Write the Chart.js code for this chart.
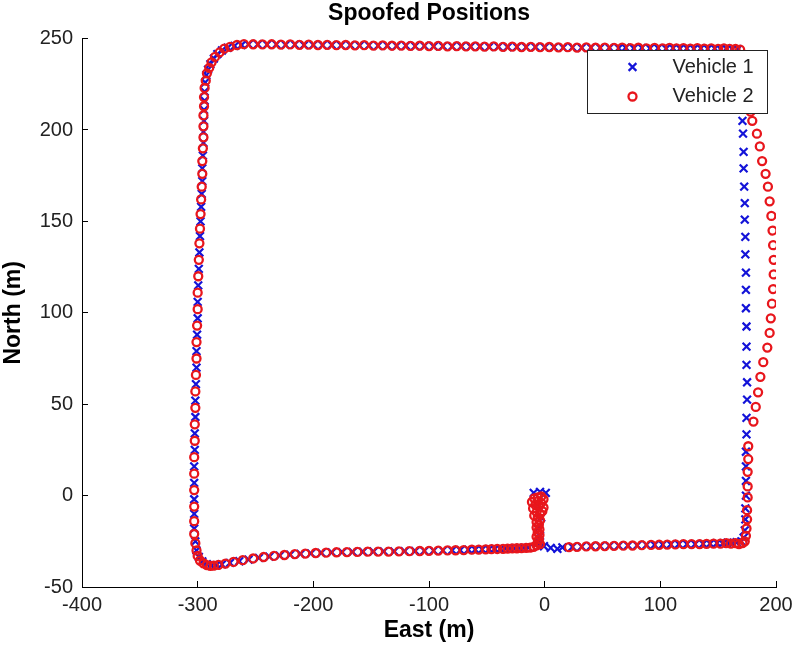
<!DOCTYPE html>
<html>
<head>
<meta charset="utf-8">
<script src="https://cdn.jsdelivr.net/npm/chart.js@4.4.1/dist/chart.umd.min.js"></script>
<style>
    html, body { margin: 0; padding: 0; background: #fff; }
    #wrap { width: 793px; height: 647px; }
</style>
</head>
<body>
<div id="wrap"><canvas id="myChart" width="793" height="647"></canvas></div>
<script>
// [east, north] in metres
const v1Start = [[-9.5,1.5],[-4,2],[1,1.5],[-6,-5],[-3,-12],[-6,-18],[-4,-22],[-6,-26],
    [-0.6,-27.7],[5.2,-28.6],[11,-29.1],[15.3,-28.3]]
const v1Bottom = [[-14,-28.4],[-18,-28.6],[-22,-28.7],[-26,-28.8],[-30,-28.9],[-34,-29],[-38,-29.1],[-43,-29.2],
    [-48,-29.3],[-54,-29.4],[-60,-29.5],[-66,-29.6],[-73,-29.8],[-80,-29.9],[-88,-30],[-96,-30.1],[-104,-30.2],
    [-112,-30.3],[-121,-30.4],[-130,-30.5],[-139,-30.5],[-148,-30.6],[-157,-30.7],[-166,-30.8],[-175,-30.9],
    [-184,-31.1],[-193,-31.3],[-202,-31.6],[-211,-31.9],[-220,-32.3],[-229,-32.8],[-238,-33.4],[-247,-34.1],
    [-256,-35],[-264,-35.9],[-272,-36.8],[-279,-37.6],[-284,-38.1],[-288,-38.3],[-292,-37.5],[-296,-36],[-299,-33.5]]
const v1Left = [[-301,-30],[-302,-25],[-303,-18],[-303,-10],[-303,-2],[-303,7],[-303,16],[-302.5,25],[-302.5,34],
    [-302,43],[-302,52],[-301.5,61],[-301,70],[-301,79],[-300.5,88],[-300,97],[-300,106],[-299.5,115],[-299,124],
    [-298.5,133],[-298,142],[-297.5,150],[-297,158],[-296.5,165],[-296,172],[-296,179],[-295.5,186],[-295,193],
    [-295,199],[-294.5,205],[-294.5,211],[-294,216],[-294,221],[-293.5,226],[-292.5,230]]
const v1Top = [[-291,233],[-289,236],[-286,239],[-283,241.5],[-279,243.5],[-274,245],[-268,246],[-262,246.5],
    [-256,246.8],[-248,246.9],[-240,246.7],[-232,246.8],[-224,246.6],[-216,246.7],[-208,246.5],[-200,246.6],
    [-192,246.4],[-184,246.5],[-176,246.3],[-168,246.4],[-160,246.2],[-152,246.3],[-144,246.1],[-136,246.2],
    [-128,246],[-120,246.1],[-112,245.9],[-104,246],[-96,245.8],[-88,245.9],[-80,245.7],[-72,245.8],[-64,245.6],
    [-56,245.7],[-48,245.5],[-40,245.6],[-32,245.4],[-24,245.5],[-16,245.3],[-8,245.4],[0,245.2],[8,245.3],
    [16,245.1],[24,245.2],[32,245],[40,245.1],[48,244.9],[56,245],[64,244.8],[70,245],[77,244.7],[84,244.9],
    [91,244.6],[98,244.8],[105,244.5],[111,244.8],[117,244.5],[123,244.7],[129,244.4],[135,244.7],[141,244.4],
    [147,244.6],[152,244.3],[157,244.6],[162,244.3],[167,244.2]]
const v1Right = [[169,241],[170,232],[170.5,223],[171,214],[171,205],[171.5,198],[172,188],[172,179],[172.5,169],
    [173,160],[173,151],[173.5,141.5],[173.5,132],[174,122],[174,112.5],[174,102.5],[174.5,92.5],[174.5,81.5],
    [174.5,71.5],[175,62],[175,52.5],[174.5,42.5],[174.5,33.5],[174,24],[174,16],[174,8],[174,0],[173.5,-7],
    [173.5,-13],[173,-19],[172,-23]]
const v1Return = [[170,-25],[166,-25.5],[162,-26],[158,-25.8],[154,-26.2],[149,-26],[143,-26.3],[137,-26.4],
    [130,-26.5],[123,-26.5],[116,-26.6],[109,-26.7],[102,-26.8],[95,-26.9],[88,-27],[80,-27.2],[72,-27.3],
    [64,-27.4],[56,-27.5],[48,-27.6],[40,-27.7],[32,-27.9],[24,-28.1]]

const v2Start = [[-6,-1],[-3,-0.5],[-9,-1.5],[-1,-2],[-6,-3],[-11,-3.5],[-3,-4],[-8,-5],[-5,-6],[-10,-7],
    [-1,-6.5],[-2,-8.5],[-7,-9],[-4,-10],[-9,-11],[-6,-12],[-4,-13.5],[-7,-14.5],[-5,-16],[-7,-17.5],[-4.5,-18.5],
    [-6,-20],[-4.5,-21.5],[-7,-22.5],[-5,-24],[-6,-25.5],[-4,-26.5],[-7,-27.2],[-9.5,-28],[-12.5,-28.5]]
const v2Bottom = [[-16,-28.6],[-20,-28.7],[-24,-28.8],[-28,-28.9],[-32,-29],[-36,-29.1],[-41,-29.2],[-46,-29.3],
    [-51,-29.4],[-57,-29.5],[-63,-29.6],[-70,-29.8],[-77,-29.9],[-84,-30],[-92,-30.1],[-100,-30.2],[-108,-30.3],
    [-117,-30.4],[-126,-30.5],[-135,-30.6],[-144,-30.6],[-153,-30.7],[-162,-30.8],[-171,-30.9],[-180,-31],
    [-189,-31.2],[-198,-31.4],[-207,-31.7],[-216,-32],[-225,-32.5],[-234,-33],[-243,-33.6],[-252,-34.4],
    [-261,-35.3],[-269,-36.3],[-276,-37.2],[-282,-37.9],[-286,-38.3],[-289,-38.4],[-292,-38],[-295,-37],
    [-298,-35.5],[-300,-33]]
const v2Left = [[-301,-30],[-302,-26],[-303,-21],[-303,-14],[-303,-6],[-303,3],[-303,12],[-303,21],[-302.5,30],
    [-302.5,39],[-302,48],[-302,57],[-301.5,66],[-301,75],[-301,84],[-300.5,93],[-300,102],[-300,111],
    [-299.5,120],[-299,129],[-298.5,138],[-298,146],[-297.5,154],[-297,162],[-296.5,169],[-296,176],[-296,183],
    [-295.5,190],[-295,196],[-295,202],[-295,208],[-294.5,213],[-294.5,218],[-294,223],[-293,227]]
const v2Top = [[-292,231],[-290,234],[-288,237],[-285,240],[-281,242.5],[-277,244.5],[-272,245.5],[-266,246.5],
    [-260,247],[-252,246.9],[-244,246.8],[-236,246.9],[-228,246.7],[-220,246.8],[-212,246.6],[-204,246.7],
    [-196,246.5],[-188,246.6],[-180,246.4],[-172,246.5],[-164,246.3],[-156,246.4],[-148,246.2],[-140,246.3],
    [-132,246.1],[-124,246.2],[-116,246],[-108,246.1],[-100,245.9],[-92,246],[-84,245.8],[-76,245.9],[-68,245.7],
    [-60,245.8],[-52,245.6],[-44,245.7],[-36,245.5],[-28,245.6],[-20,245.4],[-12,245.5],[-4,245.3],[4,245.4],
    [12,245.2],[20,245.3],[28,245.1],[36,245.2],[44,245],[52,245.1],[60,244.9],[67,245.1],[74,244.8],[81,245],
    [88,244.7],[95,244.9],[102,244.6],[108,244.9],[114,244.6],[120,244.8],[126,244.5],[132,244.8],[138,244.5],
    [144,244.7],[150,244.4],[155,244.7],[160,244.4],[165,244.3]]
const v2Right = [[169,244],[171,239],[172.5,233],[174,227],[175.5,221],[177,215],[178,210],[179.5,205],[183.5,198],
    [186,191],[188,183],[191,176],[193,169],[194.5,161],[196,153],[197,145],[197.5,137],[198,129],[198,121],
    [197.5,113],[196.5,105],[195.5,97],[194.5,89],[192.5,81],[189,73],[186.5,65],[184.5,56.5],[182.5,48.5],
    [180.5,40.5],[176,27],[176,20],[175.5,13],[175.5,5],[175.5,-1],[175,-8],[175,-13],[174.5,-18],[174,-22],
    [173,-25]]
const v2Return = [[171,-26],[168,-26.5],[165,-26],[161,-26.3],[157,-26],[152,-26.3],[146,-26.3],[140,-26.4],
    [134,-26.5],[127,-26.5],[120,-26.6],[113,-26.7],[106,-26.8],[99,-26.9],[92,-27],[84,-27.1],[76,-27.3],
    [68,-27.4],[60,-27.5],[52,-27.6],[44,-27.7],[36,-27.8],[28,-28],[21,-28.2]]

const xTicks = [-400, 200, 100]   // min, max, step
const yTicks = [-50, 250, 50]

const fontFamily = "Arial, 'Liberation Sans', Helvetica, sans-serif"

function toPoints(segments){
    let out = []
    segments.forEach(seg => seg.forEach(p => out.push({x: p[0], y: p[1]})))
    return out
}

// MATLAB style legend box in the top right corner of the axes
const boxLegend = {
    id: "boxLegend",
    afterDatasetsDraw(chart) {
        let ctx = chart.ctx
        let area = chart.chartArea
        let w = 180, h = 63
        let left = Math.round(area.right - 9 - w) + 0.5
        let top = Math.round(area.top + 11) + 0.5
        ctx.save()
        ctx.fillStyle = "#fff"
        ctx.strokeStyle = "#222"
        ctx.lineWidth = 1
        ctx.fillRect(left, top, w, h)
        ctx.strokeRect(left, top, w, h)
        chart.data.datasets.forEach((ds, i) => {
            let y = top + 16.5 + i * 29.5
            ctx.strokeStyle = ds.borderColor
            ctx.fillStyle = ds.backgroundColor
            ctx.lineWidth = ds.borderWidth
            Chart.helpers.drawPoint(ctx, {
                pointStyle: ds.pointStyle,
                radius: ds.pointRadius,
                rotation: 0,
                borderWidth: ds.borderWidth
            }, left + 45, y)
            ctx.fillStyle = "#222"
            ctx.font = "20px " + fontFamily
            ctx.textBaseline = "middle"
            ctx.textAlign = "left"
            ctx.fillText(ds.label, left + 85, y)
        })
        ctx.restore()
    }
}

function createChart(){
    let htmlChart = document.getElementById("myChart")
    Chart.defaults.font.family = fontFamily

    new Chart(htmlChart, {
        type: "scatter",
        data: {
            datasets: [
                {
                    label: "Vehicle 1",
                    data: toPoints([v1Start, v1Bottom, v1Left, v1Top, v1Right, v1Return]),
                    pointStyle: "crossRot",
                    pointRadius: 5.5,
                    borderWidth: 2.2,
                    borderColor: "#1414d8",
                    backgroundColor: "#1414d8",
                    order: 1
                },
                {
                    label: "Vehicle 2",
                    data: toPoints([v2Start, v2Bottom, v2Left, v2Top, v2Right, v2Return]),
                    pointStyle: "circle",
                    pointRadius: 4,
                    borderWidth: 2.3,
                    borderColor: "#e8161c",
                    backgroundColor: "rgba(0,0,0,0)",
                    order: 0
                }
            ]
        },
        options: {
            responsive: false,
            animation: false,
            events: [],
            layout: { padding: { left: 0, right: 17, top: 0, bottom: 0 } },
            plugins: {
                legend: { display: false },
                tooltip: { enabled: false },
                title: {
                    display: true,
                    fullSize: false,
                    text: "Spoofed Positions",
                    color: "#000",
                    font: { size: 23, weight: "bold" },
                    padding: { top: 0, bottom: 11 }
                }
            },
            scales: {
                x: {
                    type: "linear",
                    min: xTicks[0],
                    max: xTicks[1],
                    ticks: {
                        stepSize: xTicks[2],
                        color: "#222",
                        font: { size: 20 },
                        padding: 12,
                        maxRotation: 0
                    },
                    grid: { drawOnChartArea: false, tickLength: -6, color: "#000" },
                    border: { color: "#000", width: 1 },
                    title: {
                        display: true,
                        text: "East (m)",
                        color: "#000",
                        font: { size: 23, weight: "bold" },
                        padding: { top: 0, bottom: 3 }
                    },
                    afterFit(scale){
                        scale.height = 60
                        scale.paddingRight = 10
                        scale.paddingLeft = 10
                    }
                },
                y: {
                    type: "linear",
                    min: yTicks[0],
                    max: yTicks[1],
                    ticks: {
                        stepSize: yTicks[2],
                        color: "#222",
                        font: { size: 20 },
                        padding: 15
                    },
                    grid: { drawOnChartArea: false, tickLength: -6, color: "#000" },
                    border: { color: "#000", width: 1 },
                    title: {
                        display: true,
                        text: "North (m)",
                        color: "#000",
                        font: { size: 23, weight: "bold" },
                        padding: { top: 0, bottom: 0 }
                    },
                    afterFit(scale){ scale.width = 82 }
                }
            }
        },
        plugins: [boxLegend]
    })
}

createChart()
</script>
</body>
</html>
